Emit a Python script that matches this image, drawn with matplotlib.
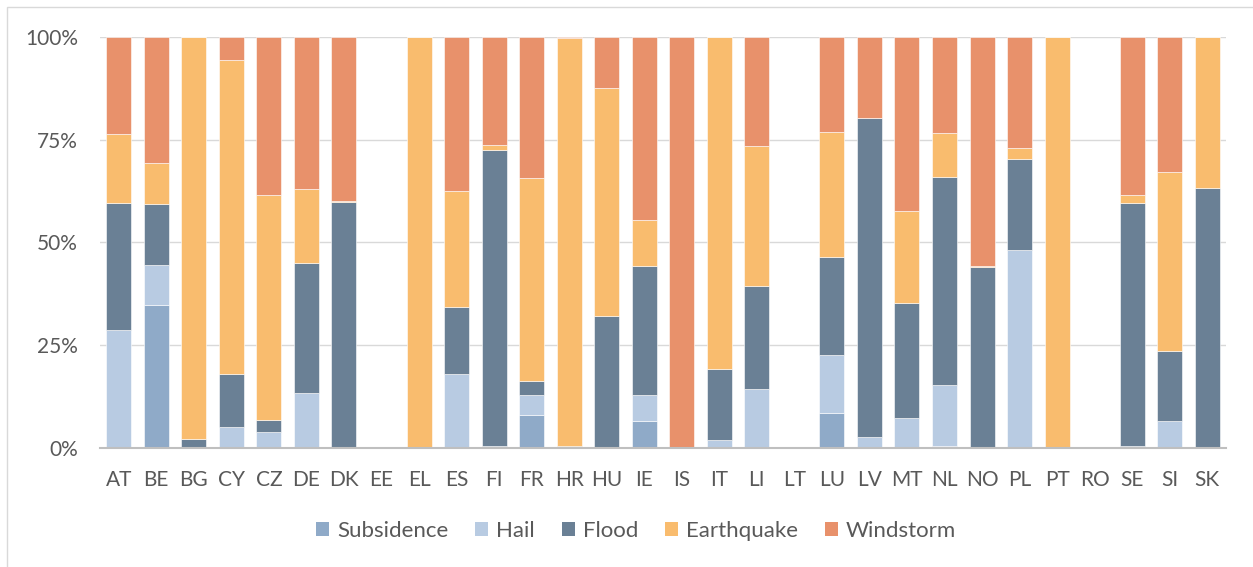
import matplotlib
matplotlib.use("Agg")
import matplotlib.pyplot as plt
from matplotlib.patches import Rectangle
import numpy as np

plt.rcParams['font.family'] = ['Lato', 'DejaVu Sans']

countries = ["AT", "BE", "BG", "CY", "CZ", "DE", "DK", "EE", "EL", "ES", "FI", "FR",
             "HR", "HU", "IE", "IS", "IT", "LI", "LT", "LU", "LV", "MT", "NL", "NO",
             "PL", "PT", "RO", "SE", "SI", "SK"]

# Share of losses by peril (%), one value per country
subsidence = [0.0, 34.9, 0.0, 0.0, 0.0, 0.0, 0.0, 0.0, 0.0, 0.0, 0.0, 8.1,
              0.0, 0.0, 6.5, 0.0, 0.0, 0.0, 0.0, 8.5, 0.0, 0.2, 0.5, 0.0,
              0.0, 0.0, 0.0, 0.0, 0.0, 0.0]
hail = [28.7, 9.7, 0.0, 5.0, 3.9, 13.3, 0.0, 0.0, 0.0, 18.0, 0.5, 4.8,
        0.0, 0.0, 6.3, 0.0, 1.9, 14.4, 0.0, 14.2, 2.6, 7.0, 14.8, 0.0,
        48.2, 0.0, 0.0, 0.5, 6.6, 0.0]
flood = [30.8, 14.7, 2.3, 13.0, 3.0, 31.6, 59.8, 0.0, 0.0, 16.4, 71.9, 3.4,
         0.5, 32.1, 31.4, 0.0, 17.2, 25.1, 0.0, 23.8, 77.7, 28.1, 50.7, 44.0,
         22.2, 0.0, 0.0, 59.1, 17.0, 63.2]
earthquake = [17.0, 10.0, 97.7, 76.5, 54.6, 18.0, 0.2, 0.0, 100.0, 28.1, 1.4, 49.3,
              99.3, 55.4, 11.2, 0.0, 80.9, 34.0, 0.0, 30.5, 0.0, 22.4, 10.6, 0.3,
              2.5, 100.0, 0.0, 1.9, 43.6, 36.8]
windstorm = [23.5, 30.7, 0.0, 5.5, 38.5, 37.1, 40.0, 0.0, 0.0, 37.5, 26.2, 34.4,
             0.2, 12.5, 44.7, 100.0, 0.0, 26.5, 0.0, 23.0, 19.7, 42.3, 23.4, 55.7,
             27.1, 0.0, 0.0, 38.5, 32.8, 0.0]

series_names = ["Subsidence", "Hail", "Flood", "Earthquake", "Windstorm"]
series_values = [subsidence, hail, flood, earthquake, windstorm]
colors = ["#8FAAC8", "#B8CBE2", "#6A8095", "#F9BC6E", "#E8916B"]

fig = plt.figure(figsize=(12.53, 5.67), dpi=100)
ax = fig.add_axes([100 / 1253, 1 - 448 / 567, 1126 / 1253, 411 / 567])

x = np.arange(len(countries))
bottom = np.zeros(len(countries))
for name, vals, col in zip(series_names, series_values, colors):
    v = np.array(vals, dtype=float)
    ax.bar(x, v, 0.665, bottom=bottom, color=col, label=name,
           edgecolor="#FFFFFF", linewidth=0.4, zorder=3)
    bottom += v

ax.set_xlim(-0.5, len(countries) - 0.5)
ax.set_ylim(0, 100)
ax.set_yticks([0, 25, 50, 75, 100])
ax.set_yticklabels(["0%", "25%", "50%", "75%", "100%"])
ax.set_xticks(x)
ax.set_xticklabels(countries)
ax.tick_params(axis="both", length=0, labelsize=15, colors="#595959")
ax.tick_params(axis="y", pad=16)
ax.tick_params(axis="x", pad=16)
ax.grid(axis="y", color="#D9D9D9", linewidth=1.0, zorder=0)
for side in ["top", "right", "left"]:
    ax.spines[side].set_visible(False)
ax.spines["bottom"].set_color("#BFBFBF")
ax.spines["bottom"].set_linewidth(1.5)
ax.spines["bottom"].set_zorder(4)

leg = fig.legend(loc="center", bbox_to_anchor=(636 / 1253, 1 - 531 / 567), ncol=5,
                 frameon=False, fontsize=16, handlelength=0.6, handleheight=0.6,
                 handletextpad=0.35, columnspacing=1.2, labelcolor="#595959")
for h in leg.legend_handles:
    h.set_edgecolor("none")

# Light frame around the chart area
fig.patches.append(Rectangle((7 / 1253, -0.1), 1.2, 1 - 7 / 567 + 0.1,
                             transform=fig.transFigure, fill=False,
                             edgecolor="#D9D9D9", linewidth=1.0))

fig.savefig("out.png", dpi=100)
